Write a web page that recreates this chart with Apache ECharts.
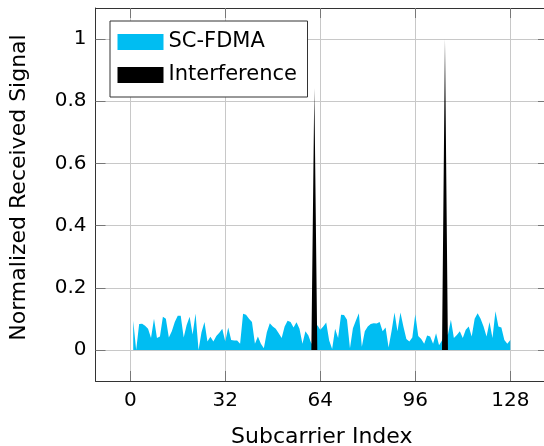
<!DOCTYPE html>
<html>
<head>
<meta charset="utf-8">
<script src="https://cdn.jsdelivr.net/npm/echarts@6/dist/echarts.min.js"></script>
<style>
  html, body { margin: 0; padding: 0; background: #fff; }
  #chart { width: 544px; height: 446px; }
</style>
</head>
<body>
<div id="chart"></div>
<script>
// received SC-FDMA level per subcarrier (1..128)
const scFdma = [
  0.094, 0.0, 0.083, 0.084, 0.078, 0.068, 0.038, 0.10, 0.038, 0.043,
  0.107, 0.10, 0.040, 0.060, 0.090, 0.110, 0.110, 0.040, 0.080, 0.107,
  0.050, 0.117, 0.0, 0.057, 0.090, 0.027, 0.042, 0.027, 0.045, 0.055,
  0.068, 0.027, 0.072, 0.032, 0.030, 0.030, 0.020, 0.116, 0.113, 0.100,
  0.090, 0.020, 0.043, 0.020, 0.005, 0.057, 0.086, 0.075, 0.068, 0.054,
  0.038, 0.075, 0.094, 0.090, 0.072, 0.089, 0.068, 0.020, 0.060, 0.046,
  0.020, 0.030, 0.080, 0.065, 0.075, 0.088, 0.030, 0.003, 0.068, 0.038,
  0.113, 0.112, 0.097, 0.005, 0.070, 0.095, 0.118, 0.010, 0.060, 0.075,
  0.083, 0.086, 0.085, 0.090, 0.060, 0.072, 0.008, 0.060, 0.120, 0.060,
  0.120, 0.075, 0.035, 0.027, 0.040, 0.115, 0.045, 0.035, 0.020, 0.046,
  0.043, 0.020, 0.054, 0.015, 0.030, 0.050, 0.050, 0.097, 0.038, 0.048,
  0.060, 0.038, 0.065, 0.075, 0.043, 0.100, 0.118, 0.100, 0.075, 0.043,
  0.090, 0.038, 0.124, 0.075, 0.072, 0.032, 0.020, 0.032
]
// interference hits two subcarriers only
const interference = [
  [61, 0], [62, 0.843], [63, 0], null,
  [105, 0], [106, 1.0], [107, 0]
]
const xTicks = [0, 32, 64, 96, 128]
const yTicks = [0, 0.2, 0.4, 0.6, 0.8, 1]

const FONT = 'DejaVu Sans'
const FRAME = '#333'
const TICK = '#777'
const GRID = '#c8c8c8'

const scPoints = scFdma.map((v, i) => [i + 1, v])

const chart = echarts.init(document.getElementById('chart'))

const frameAxis = (extra) => Object.assign({
  type: 'value',
  axisLine: { show: true, onZero: false, lineStyle: { color: FRAME, width: 1 } },
  splitLine: { show: false },
  axisLabel: { show: false }
}, extra)

chart.setOption({
  animation: false,
  textStyle: { fontFamily: FONT },
  // keep the plot box fixed, labels may sit outside it
  grid: { left: 95.5, right: -4, top: 8, bottom: 65, outerBoundsMode: 'none' },
  legend: {
    orient: 'vertical',
    left: 110,
    top: 21,
    icon: 'rect',
    itemWidth: 46,
    itemHeight: 16,
    itemGap: 9,
    padding: [9, 9, 10, 7.5],
    borderColor: FRAME,
    borderWidth: 1,
    borderRadius: 0,
    backgroundColor: '#fff',
    textStyle: { fontFamily: FONT, fontSize: 21, color: '#000', lineHeight: 24, width: 130 },
    data: ['SC-FDMA', 'Interference']
  },
  xAxis: [
    frameAxis({
      position: 'bottom',
      min: -11.7,
      max: 140.7,
      name: 'Subcarrier Index',
      nameLocation: 'middle',
      nameGap: 45,
      nameTextStyle: { fontFamily: FONT, fontSize: 22, color: '#000' },
      axisTick: { show: true, inside: true, length: 10, customValues: xTicks, lineStyle: { color: TICK } },
      axisLabel: { show: true, customValues: xTicks, margin: 10, fontSize: 20, color: '#000', fontFamily: FONT },
      splitLine: { show: true, lineStyle: { color: GRID, width: 1 } }
    }),
    frameAxis({
      position: 'top',
      min: -11.7,
      max: 140.7,
      axisTick: { show: true, inside: true, length: 10, customValues: xTicks, lineStyle: { color: TICK } }
    })
  ],
  yAxis: [
    frameAxis({
      position: 'left',
      min: -0.1,
      max: 1.1,
      name: 'Normalized Received Signal',
      nameLocation: 'middle',
      nameGap: 65,
      nameTextStyle: { fontFamily: FONT, fontSize: 22, color: '#000', padding: [0, 0, 0, 14] },
      axisTick: { show: true, inside: true, length: 10, customValues: yTicks, lineStyle: { color: TICK } },
      axisLabel: { show: true, customValues: yTicks, margin: 9, fontSize: 20, color: '#000', fontFamily: FONT },
      splitLine: { show: true, lineStyle: { color: GRID, width: 1 } }
    }),
    frameAxis({
      position: 'right',
      min: -0.1,
      max: 1.1,
      axisTick: { show: true, inside: true, length: 10, customValues: yTicks, lineStyle: { color: TICK } }
    })
  ],
  series: [
    {
      name: 'SC-FDMA',
      type: 'line',
      data: scPoints,
      symbol: 'none',
      lineStyle: { width: 0 },
      itemStyle: { color: '#00bdf2' },
      areaStyle: { color: '#00bdf2', opacity: 1 }
    },
    {
      name: 'Interference',
      type: 'line',
      data: interference,
      symbol: 'none',
      connectNulls: false,
      lineStyle: { width: 0 },
      itemStyle: { color: '#000' },
      areaStyle: { color: '#000', opacity: 1 }
    }
  ]
})

window.addEventListener('resize', () => chart.resize())
</script>
</body>
</html>
